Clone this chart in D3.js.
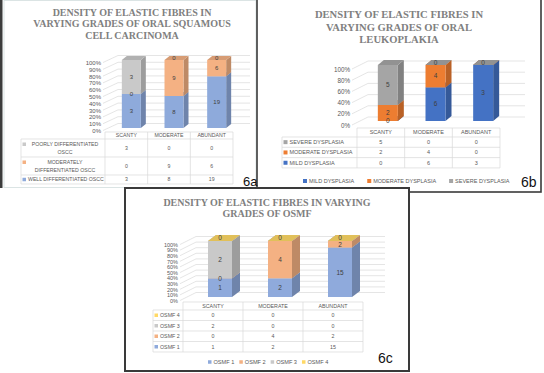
<!DOCTYPE html>
<html>
<head>
<meta charset="utf-8">
<script src="https://cdn.jsdelivr.net/npm/d3@7"></script>
<style>
  body { margin: 0; background: #fff; }
  svg { display: block; }
  .title { font-family: "Liberation Serif", "Times New Roman", serif; font-weight: bold; fill: #808080; }
  .small { font-family: "Liberation Sans", Arial, sans-serif; fill: #595959; }
  .tag { font-family: "Liberation Sans", Arial, sans-serif; fill: #111; }
</style>
</head>
<body>
<script>
var categories = ["SCANTY", "MODERATE", "ABUNDANT"];

// 6a - oral squamous cell carcinoma
var osccTitle = ["DENSITY OF ELASTIC FIBRES IN", "VARYING GRADES OF ORAL SQUAMOUS", "CELL CARCINOMA"];
var osccSeries = ["WELL DIFFERENTIATED OSCC", "MODERATELY DIFFERENTIATED OSCC", "POORLY  DIFFERENTIATED OSCC"];
var osccWell = [3, 8, 19];
var osccModerate = [0, 9, 6];
var osccPoor = [3, 0, 0];
var osccTicks = [0, 0.1, 0.2, 0.3, 0.4, 0.5, 0.6, 0.7, 0.8, 0.9, 1];

// 6b - oral leukoplakia
var leukoTitle = ["DENSITY OF ELASTIC FIBRES IN", "VARYING GRADES OF ORAL", "LEUKOPLAKIA"];
var leukoSeries = ["MILD DYSPLASIA", "MODERATE DYSPLASIA", "SEVERE DYSPLASIA"];
var leukoMild = [0, 6, 3];
var leukoModerate = [2, 4, 0];
var leukoSevere = [5, 0, 0];
var leukoTicks = [0, 0.2, 0.4, 0.6, 0.8, 1];

// 6c - OSMF
var osmfTitle = ["DENSITY OF ELASTIC FIBRES IN VARYING", "GRADES OF OSMF"];
var osmfSeries = ["OSMF 1", "OSMF 2", "OSMF 3", "OSMF 4"];
var osmf1 = [1, 2, 15];
var osmf2 = [0, 4, 2];
var osmf3 = [2, 0, 0];
var osmf4 = [0, 0, 0];
var osmfTicks = [0, 0.1, 0.2, 0.3, 0.4, 0.5, 0.6, 0.7, 0.8, 0.9, 1];

var svg = d3.select("body").append("svg").attr("width", 544).attr("height", 373);

// frames
svg.append("rect").attr("x", 0).attr("y", 0).attr("width", 2.5).attr("height", 188).attr("fill", "#3c3c3c");
svg.append("rect").attr("x", 4).attr("y", 0.5).attr("width", 252).attr("height", 187)
  .attr("fill", "none").attr("stroke", "#d3dede").attr("stroke-width", 0.8);
svg.append("rect").attr("x", 257).attr("y", -3).attr("width", 284).attr("height", 195)
  .attr("fill", "#fff").attr("stroke", "#3a3a3a").attr("stroke-width", 1.6);

function drawPanel(g, p) {
  var data = categories.map(function(c, i) {
    var row = { cat: c };
    p.series.forEach(function(s, k) { row[s] = p.values[k][i]; });
    return row;
  });
  var stacked = d3.stack().keys(p.series).offset(d3.stackOffsetExpand)(data);

  var x = d3.scaleBand().domain(categories).range([p.tableX1, p.tableX2]);
  var y = d3.scaleLinear().domain([0, 1]).range([p.yBottom, p.yTop]);

  // title
  g.append("g").selectAll("text").data(p.title).join("text")
    .attr("class", "title")
    .attr("x", p.titleX)
    .attr("y", function(d, i) { return p.titleY + i * p.titleDy; })
    .attr("text-anchor", "middle")
    .style("font-size", p.titleSize + "px")
    .text(function(d) { return d; });

  // gridlines on walls
  g.append("g").selectAll("path").data(p.ticks).join("path")
    .attr("d", function(t) {
      var yy = y(t) + p.tickLift;
      return "M" + p.gridX0 + "," + yy + "L" + (p.gridX0 + p.gridDX) + "," + (yy - p.gridDY) + "H" + p.gridX1;
    })
    .attr("fill", "none").attr("stroke", "#dadada").attr("stroke-width", 0.7);

  // y axis labels
  var ax = g.append("g").attr("transform", "translate(" + p.tickX + "," + p.tickLift + ")")
    .call(d3.axisLeft(y).tickValues(p.ticks).tickFormat(d3.format(".0%")).tickSize(0).tickPadding(0));
  ax.select(".domain").remove();
  ax.attr("font-family", null).attr("font-size", null);
  ax.selectAll("text").attr("class", "small").attr("fill", null)
    .style("font-size", p.tickSize + "px");

  // 3d stacked boxes
  var bars = g.append("g");
  function bx(d) { return x(d.data.cat) + x.bandwidth() / 2 + p.barShift - p.barW / 2; }
  stacked.forEach(function(layer, k) {
    var front = d3.color(p.colors[k]);
    var side = front.darker(0.7);
    var top = front.darker(0.35);
    var seg = bars.append("g").selectAll("g")
      .data(layer.filter(function(d) { return p.zeroTops || d[1] > d[0]; }))
      .join("g");
    seg.append("path")
      .attr("d", function(d) {
        var x1 = bx(d) + p.barW, yt = y(d[1]), yb = y(d[0]);
        return "M" + x1 + "," + yb + "L" + (x1 + p.depthX) + "," + (yb - p.depthY) +
          "L" + (x1 + p.depthX) + "," + (yt - p.depthY) + "L" + x1 + "," + yt + "Z";
      })
      .attr("fill", side);
    seg.append("path")
      .attr("d", function(d) {
        var x0 = bx(d), x1 = x0 + p.barW, yt = y(d[1]);
        return "M" + x0 + "," + yt + "L" + x1 + "," + yt + "L" + (x1 + p.depthX) + "," + (yt - p.depthY) +
          "L" + (x0 + p.depthX) + "," + (yt - p.depthY) + "Z";
      })
      .attr("fill", top);
    seg.append("rect")
      .attr("x", bx)
      .attr("y", function(d) { return y(d[1]); })
      .attr("width", p.barW)
      .attr("height", function(d) { return y(d[0]) - y(d[1]); })
      .attr("fill", front);
  });

  // value labels (zero labels sitting on the same spot are drawn once,
  // a zero on the very top sits on the top face)
  stacked.forEach(function(layer, k) {
    var shown = layer.filter(function(d, i) {
      if (d[1] > d[0]) return true;
      for (var j = k + 1; j < stacked.length; j++) {
        var e = stacked[j][i];
        if (e[1] === e[0] && e[0] === d[0]) return false;
      }
      return true;
    });
    bars.append("g").selectAll("text").data(shown).join("text")
      .attr("class", "small")
      .attr("x", function(d) { return x(d.data.cat) + x.bandwidth() / 2 + p.barShift; })
      .attr("y", function(d) {
        var ym = (y(d[0]) + y(d[1])) / 2;
        return d[0] === d[1] && d[1] === 1 ? ym - p.depthY / 2 : ym;
      })
      .attr("dy", "0.35em")
      .attr("text-anchor", "middle")
      .style("font-size", p.labelSize + "px")
      .style("fill", "#404040")
      .text(function(d) { return d.data[layer.key]; });
  });

  // data table
  var tops = Array.from(d3.cumsum([p.tableY].concat(p.rowH)));
  var bottom = tops[tops.length - 1];
  var t = g.append("g");
  t.append("line").attr("x1", p.tableX1).attr("x2", p.tableX2).attr("y1", tops[0]).attr("y2", tops[0]);
  t.selectAll(".h").data(tops.slice(1)).join("line").attr("class", "h")
    .attr("x1", p.tableX0).attr("x2", p.tableX2)
    .attr("y1", function(d) { return d; }).attr("y2", function(d) { return d; });
  t.append("line").attr("x1", p.tableX0).attr("x2", p.tableX0).attr("y1", tops[1]).attr("y2", bottom);
  t.selectAll(".v").data(categories.concat([null])).join("line").attr("class", "v")
    .attr("x1", function(d) { return d === null ? p.tableX2 : x(d); })
    .attr("x2", function(d) { return d === null ? p.tableX2 : x(d); })
    .attr("y1", tops[0]).attr("y2", bottom);
  t.selectAll("line").attr("stroke", "#d9d9d9").attr("stroke-width", 0.7);

  t.selectAll(".hd").data(categories).join("text")
    .attr("class", "small")
    .attr("x", function(d) { return x(d) + x.bandwidth() / 2; })
    .attr("y", (tops[0] + tops[1]) / 2).attr("dy", "0.35em")
    .attr("text-anchor", "middle")
    .style("font-size", p.tableSize + "px")
    .text(function(d) { return d; });

  var n = p.series.length;
  p.series.forEach(function(s, k) {
    var r = n - k;
    var ym = (tops[r] + tops[r + 1]) / 2;
    var words = s.split(" ");
    var lines = p.breaks[k] ? [words.slice(0, p.breaks[k]).join(" "), words.slice(p.breaks[k]).join(" ")] : [s];
    var lh = p.tableSize * 1.45;
    var firstY = ym - (lines.length - 1) * lh / 2;
    t.append("rect")
      .attr("x", p.tableX0 + 1.5).attr("y", firstY - p.keySize / 2)
      .attr("width", p.keySize).attr("height", p.keySize)
      .attr("fill", p.colors[k]);
    t.selectAll(".lab" + k).data(lines).join("text")
      .attr("class", "small lab" + k)
      .attr("x", lines.length > 1 ? (p.tableX0 + 4 + p.tableX1) / 2 : p.tableX0 + p.keySize + 3.5)
      .attr("text-anchor", lines.length > 1 ? "middle" : "start")
      .attr("y", function(d, i) { return firstY + i * lh; })
      .attr("dy", "0.35em")
      .style("font-size", p.tableSize + "px")
      .text(function(d) { return d; });
    t.selectAll(".val" + k).data(p.values[k]).join("text")
      .attr("class", "small val" + k)
      .attr("x", function(d, i) { return x(categories[i]) + x.bandwidth() / 2; })
      .attr("y", ym).attr("dy", "0.35em")
      .attr("text-anchor", "middle")
      .style("font-size", p.tableSize + "px")
      .text(function(d) { return d; });
  });

  // legend below table
  if (p.legendY) {
    var lx = p.legendX;
    p.series.forEach(function(s, k) {
      g.append("rect").attr("x", lx).attr("y", p.legendY - p.keySize / 2)
        .attr("width", p.keySize).attr("height", p.keySize).attr("fill", p.colors[k]);
      var tx = g.append("text").attr("class", "small")
        .attr("x", lx + p.keySize + 2).attr("y", p.legendY).attr("dy", "0.35em")
        .style("font-size", p.legendSize + "px").text(s);
      lx += p.keySize + 2 + tx.node().getComputedTextLength() + p.legendGap;
    });
  }

  g.append("text").attr("class", "tag").attr("x", p.tagX).attr("y", p.tagY)
    .style("font-size", p.tagSize + "px").text(p.tag);
}

drawPanel(svg.append("g"), {
  title: osccTitle, titleX: 132, titleY: 15.7, titleDy: 11.5, titleSize: 10,
  series: osccSeries, values: [osccWell, osccModerate, osccPoor],
  colors: ["#8eaadb", "#f4b183", "#c9c9c9"], zeroTops: false,
  ticks: osccTicks, tickX: 101, tickLift: 2.5, tickSize: 6,
  yBottom: 128, yTop: 60,
  gridX0: 103, gridDX: 15, gridDY: 7, gridX1: 250,
  barW: 19, barShift: 5, depthX: 5, depthY: 4, labelSize: 6,
  tableX0: 21, tableX1: 105, tableX2: 233, tableY: 132, rowH: [7, 18, 18, 9],
  tableSize: 5.2, keySize: 3.5, breaks: [0, 1, 3],
  tag: "6a", tagX: 243, tagY: 186, tagSize: 13
});

drawPanel(svg.append("g"), {
  title: leukoTitle, titleX: 399, titleY: 18.3, titleDy: 12.2, titleSize: 10.6,
  series: leukoSeries, values: [leukoMild, leukoModerate, leukoSevere],
  colors: ["#4472c4", "#ed7d31", "#a5a5a5"], zeroTops: true,
  ticks: leukoTicks, tickX: 350, tickLift: 4, tickSize: 6.3,
  yBottom: 121, yTop: 65,
  gridX0: 352, gridDX: 16, gridDY: 8, gridX1: 525,
  barW: 20, barShift: 7, depthX: 6, depthY: 5, labelSize: 6.5,
  tableX0: 282, tableX1: 357, tableX2: 500, tableY: 128, rowH: [9, 10.3, 10.3, 10.3],
  tableSize: 5.5, keySize: 4, breaks: [0, 0, 0],
  legendY: 181, legendX: 303, legendGap: 13, legendSize: 5.5,
  tag: "6b", tagX: 521, tagY: 187, tagSize: 14
});

svg.append("rect").attr("x", 125).attr("y", 188).attr("width", 284).attr("height", 183)
  .attr("fill", "#fff").attr("stroke", "#3a3a3a").attr("stroke-width", 2);

drawPanel(svg.append("g"), {
  title: osmfTitle, titleX: 267, titleY: 205.7, titleDy: 11.6, titleSize: 10,
  series: osmfSeries, values: [osmf1, osmf2, osmf3, osmf4],
  colors: ["#8faadc", "#f4b183", "#c9c9c9", "#ffd966"], zeroTops: true,
  ticks: osmfTicks, tickX: 178, tickLift: 3.5, tickSize: 5.5,
  yBottom: 297, yTop: 241,
  gridX0: 180, gridDX: 16, gridDY: 8, gridX1: 385,
  barW: 24, barShift: 7, depthX: 8, depthY: 6, labelSize: 6.5,
  tableX0: 153, tableX1: 183, tableX2: 363, tableY: 302, rowH: [8, 10.5, 10.5, 10.5, 10.5],
  tableSize: 5.3, keySize: 3.5, breaks: [0, 0, 0, 0],
  legendY: 362, legendX: 208, legendGap: 5, legendSize: 5.6,
  tag: "6c", tagX: 378, tagY: 363, tagSize: 14
});
</script>
</body>
</html>
